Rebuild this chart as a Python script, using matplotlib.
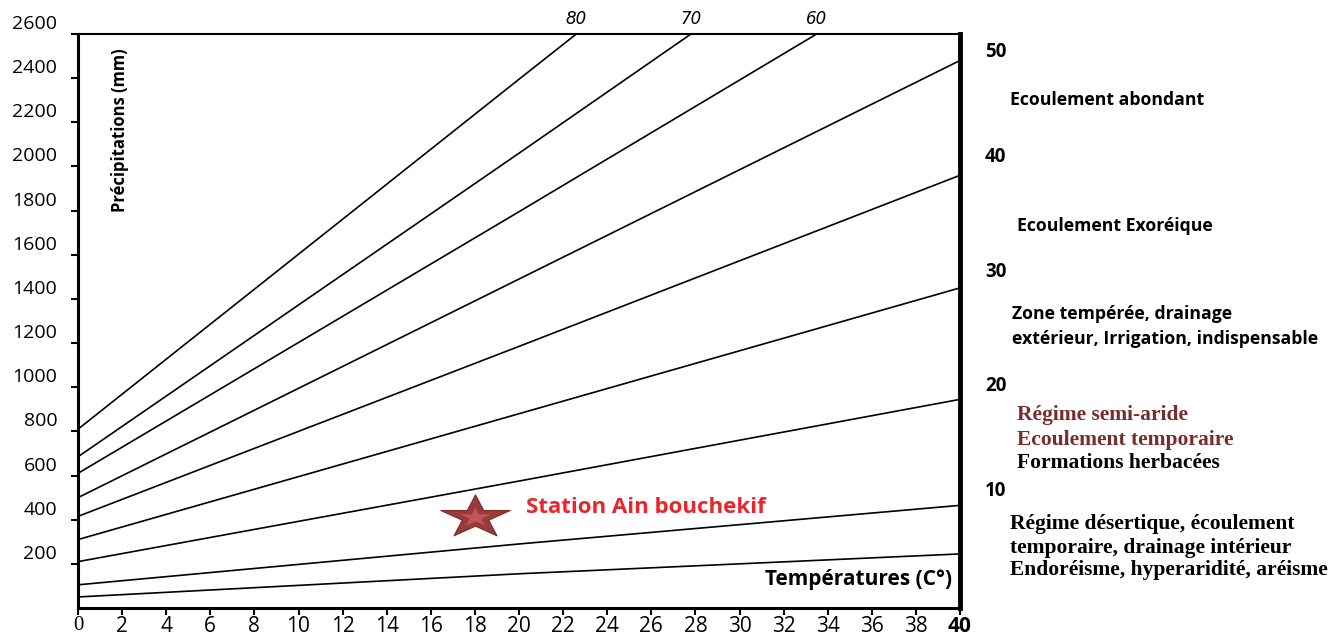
import matplotlib
matplotlib.use("Agg")
import matplotlib.pyplot as plt
import matplotlib.transforms as mtransforms
from matplotlib.markers import MarkerStyle

plt.rcParams["font.family"] = ["Open Sans", "DejaVu Sans"]

aridity_index = [5, 10, 20, 30, 40, 50, 60, 70, 80]
curve_temp = [
    [0, 20, 40],
    [0, 20, 40],
    [0, 20, 40],
    [0, 20, 40],
    [0, 20, 40],
    [0, 20, 40],
    [0, 20, 33.5],
    [0, 20, 27.8],
    [0, 20, 22.6],
]
curve_precip = [
    [50, 155, 245],
    [105, 290, 465],
    [210, 575, 945],
    [310, 880, 1450],
    [415, 1185, 1960],
    [500, 1490, 2480],
    [610, 1795, 2600],
    [685, 2060, 2600],
    [810, 2395, 2600],
]
top_labels = ["60", "70", "80"]          # curves leaving through the top

station_name = "Station Ain bouchekif"
station_temp = 18.0
station_precip = 410

x_ticks = list(range(0, 41, 2))
y_ticks = list(range(200, 2601, 200))

index_marks = ["50", "40", "30", "20", "10"]
regime_text = [
    "Ecoulement abondant",
    "Ecoulement Exoréique",
    "Zone tempérée, drainage",
    "extérieur, Irrigation, indispensable",
    "Régime semi-aride",
    "Ecoulement temporaire",
    "Formations herbacées",
    "Régime désertique, écoulement",
    "temporaire, drainage intérieur",
    "Endoréisme, hyperaridité, aréisme",
]

# ── Figure ──────────────────────────────────────────────────────────────────
W, H = 1343, 637
fig = plt.figure(figsize=(W / 100, H / 100), dpi=100)
ax = fig.add_axes([78 / W, 1 - 608 / H, (960 - 78) / W, (608 - 34) / H])
ax.set_xlim(0, 40)
ax.set_ylim(0, 2600)

for T, P in zip(curve_temp, curve_precip):
    ax.plot(T, P, color="black", lw=1.2)

# index labels above the steep curves
for T, P, lab in zip(curve_temp[-3:], curve_precip[-3:], top_labels):
    ax.annotate(lab, xy=(T[-1], P[-1]), xytext=(0, 4), textcoords="offset points",
                ha="center", va="bottom", fontsize=12, style="italic",
                family="DejaVu Sans", annotation_clip=False)

# station marker (flattened star with a lighter core)
star = MarkerStyle("*").get_path().transformed(mtransforms.Affine2D().scale(1, 0.62))
ax.plot([station_temp], [station_precip], marker=star, ms=50, color="#9a3a3a",
        mec="#7d2c2c", mew=0.8, ls="none", zorder=5)
ax.plot([station_temp], [station_precip], marker=star, ms=22, color="#c25656",
        mec="none", ls="none", zorder=6)
ax.annotate(station_name, xy=(station_temp, station_precip), xytext=(37, 7),
            textcoords="offset points", ha="left", va="center",
            fontsize=16, fontweight="bold", color="#e8262c")

# axes styling
ax.spines["left"].set_linewidth(2.2)
ax.spines["bottom"].set_linewidth(2.2)
ax.spines["top"].set_linewidth(1.5)
ax.spines["right"].set_linewidth(3.5)

ax.set_xticks(x_ticks)
ax.set_yticks(y_ticks)
ax.tick_params(axis="both", direction="out", length=5, width=1.5)
ax.tick_params(axis="y", labelsize=14, pad=10)
ax.tick_params(axis="x", labelsize=15, pad=1)

up = mtransforms.ScaledTranslation(0, 0.12, fig.dpi_scale_trans)
for lbl in ax.get_yticklabels():
    lbl.set_transform(lbl.get_transform() + up)

xlabels = ax.get_xticklabels()
xlabels[0].set_family("Liberation Serif")
xlabels[-1].set_fontweight("bold")

ax.text(0.048, 0.833, "Précipitations (mm)", transform=ax.transAxes, rotation=90,
        ha="center", va="center", fontsize=12, fontweight="bold")
ax.text(0.991, 0.049, "Températures (C°)", transform=ax.transAxes,
        ha="right", va="center", fontsize=15, fontweight="bold")

# ── Right-hand legend of regimes ────────────────────────────────────────────
def fx(px):
    return px / W

def fy(py):
    return 1 - py / H

for lab, py in zip(index_marks, [52, 157, 272, 386, 491]):
    fig.text(fx(985), fy(py), lab, ha="left", va="center",
             fontsize=13.5, fontweight="bold")

dark_red = "#772d2d"
regime_layout = [
    (1010, 100, "black", "sans"),
    (1017, 226, "black", "sans"),
    (1012, 314, "black", "sans"),
    (1012, 339, "black", "sans"),
    (1017, 415, dark_red, "serif"),
    (1017, 440, dark_red, "serif"),
    (1017, 463, "black", "serif"),
    (1010, 524, "black", "serif"),
    (1010, 548, "black", "serif"),
    (1010, 570, "black", "serif"),
]
for txt, (px, py, col, kind) in zip(regime_text, regime_layout):
    if kind == "serif":
        fig.text(fx(px), fy(py), txt, ha="left", va="center", color=col,
                 fontsize=15.5, fontweight="bold", family="Liberation Serif")
    else:
        fig.text(fx(px), fy(py), txt, ha="left", va="center", color=col,
                 fontsize=12.7, fontweight="bold")

fig.savefig("out.png", dpi=100)
